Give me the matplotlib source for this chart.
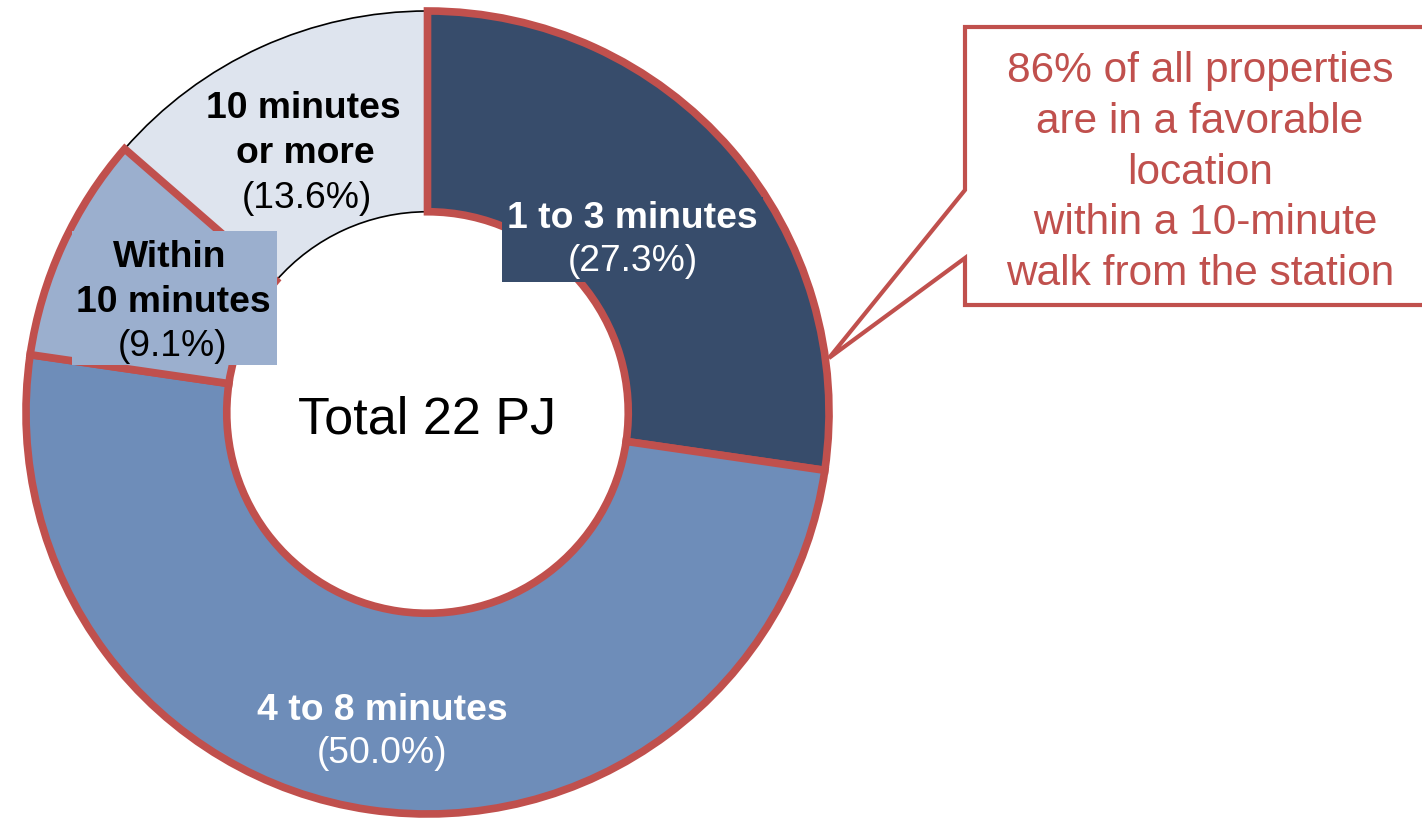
import matplotlib
matplotlib.use("Agg")
import matplotlib.pyplot as plt
from matplotlib.patches import Rectangle, Polygon

plt.rcParams['font.family'] = ['Liberation Sans', 'DejaVu Sans']

# ---- data ----
categories = ["1 to 3 minutes", "4 to 8 minutes", "Within\n10 minutes", "10 minutes\nor more"]
shares = [27.3, 50.0, 9.1, 13.6]
pct_labels = ["(27.3%)", "(50.0%)", "(9.1%)", "(13.6%)"]
colors = ["#374C6B", "#6E8DB9", "#9BAFCE", "#DEE4EE"]
center_text = "Total 22 PJ"
callout_lines = ["86% of all properties", "are in a favorable", "location",
                 " within a 10-minute", "walk from the station"]

RED = "#C0504D"
W, H = 1422, 819
fig = plt.figure(figsize=(W / 100, H / 100), dpi=100)

# pie geometry in pixels
CX, CY, R = 427.5, 412.5, 401.5
ax = fig.add_axes([(CX - R) / W, (H - CY - R) / H, 2 * R / W, 2 * R / H])
wedges, _ = ax.pie(shares, colors=colors, startangle=90, counterclock=False,
                   radius=1.0, wedgeprops=dict(width=0.5))
for i, w in enumerate(wedges):
    if i < 3:
        w.set_edgecolor(RED)
        w.set_linewidth(5.5)
        w.set_zorder(2)
        w.set_joinstyle('miter')
    else:
        w.set_edgecolor('black')
        w.set_linewidth(1.2)
        w.set_zorder(1)
ax.set_xlim(-1, 1)
ax.set_ylim(-1, 1)
ax.set_aspect('auto')
ax.axis('off')


def px(x, y):
    return (x - CX) / R, (CY - y) / R


def box(x0, y0, x1, y1, color):
    (a, b), (c, d) = px(x0, y1), px(x1, y0)
    ax.add_patch(Rectangle((a, b), c - a, d - b, facecolor=color, edgecolor='none',
                           zorder=3, clip_on=False))


def txt(x, y, s, color, bold=False, size=26.8):
    ax.text(*px(x, y), s, ha='center', va='baseline', fontsize=size, color=color,
            fontweight='bold' if bold else 'normal', zorder=4, clip_on=False)


# label boxes
box(502, 197, 763, 282, colors[0])
box(72, 231, 277, 365, colors[2])

# slice 1
txt(632.5, 228, categories[0], 'white', True)
txt(632.5, 271, pct_labels[0], 'white')
# slice 2
txt(382, 720, categories[1], 'white', True)
txt(382, 763, pct_labels[1], 'white')
# slice 3
l1, l2 = categories[2].split("\n")
txt(170, 267, l1, 'black', True)
txt(173, 312, l2, 'black', True)
txt(173, 356, pct_labels[2], 'black')
# slice 4
l1, l2 = categories[3].split("\n")
txt(303, 118, l1, 'black', True)
txt(305, 163, l2, 'black', True)
txt(307, 208, pct_labels[3], 'black')

# center text
txt(427, 433, center_text, 'black', size=37.5)

# callout overlay
ov = fig.add_axes([0, 0, 1, 1])
ov.set_xlim(0, W)
ov.set_ylim(H, 0)
ov.axis('off')
ov.patch.set_alpha(0)
pts = [(1440, 27), (965, 27), (965, 190), (829, 358), (965, 258), (965, 305), (1440, 305)]
ov.add_patch(Polygon(pts, closed=False, facecolor='white', edgecolor=RED, linewidth=3,
                     joinstyle='miter'))
for i, line in enumerate(callout_lines):
    ov.text(1200, 82 + 50.8 * i, line, ha='center', va='baseline', fontsize=30.5, color=RED)

fig.savefig("out.png", dpi=100)
